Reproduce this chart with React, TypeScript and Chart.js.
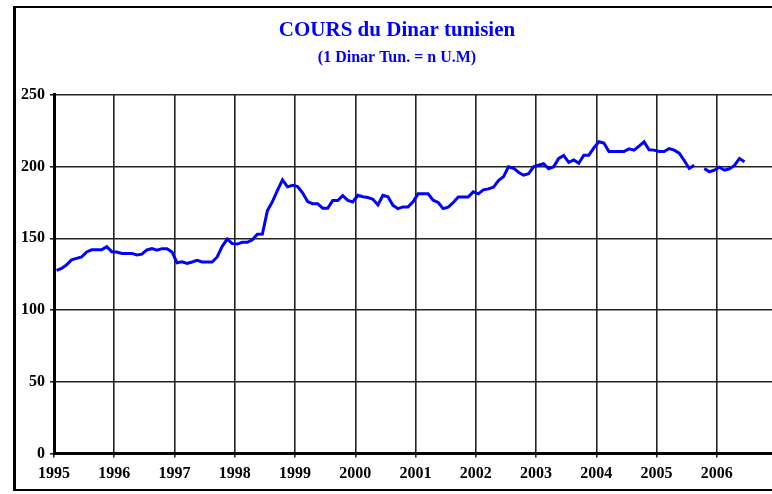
import React, { useEffect, useRef } from "react";
import { Chart, registerables } from "chart.js";

Chart.register(...registerables);

const startYear = 1995;
const yearLabels = ["1995", "1996", "1997", "1998", "1999", "2000", "2001", "2002", "2003", "2004", "2005", "2006"];
const yTicks = [0, 50, 100, 150, 200, 250];

const rates1995 = [127.7, 129, 131.5, 135, 136, 137, 140.5, 142, 142, 142, 144.2, 140.7];
const rates1996 = [140.5, 139.5, 139.5, 139.5, 138.4, 139, 142, 142.8, 141.8, 142.8, 142.8, 140.5];
const rates1997 = [133, 133.7, 132.5, 133.5, 134.6, 133.5, 133.5, 133.5, 137, 144.4, 149.5, 146.3];
const rates1998 = [146, 147.2, 147.2, 149, 152.8, 153, 169.3, 175.6, 183.5, 190.8, 185.9, 187];
const rates1999 = [186.1, 181.7, 175.6, 174.2, 174.2, 171, 171, 176.3, 176.3, 179.8, 176.5, 175.4];
const rates2000 = [180, 179, 178.5, 177.3, 173.3, 180, 179, 173, 170.7, 171.9, 171.9, 175.4];
const rates2001 = [181, 181, 181, 176.6, 175, 170.7, 171.7, 175, 178.9, 178.9, 178.9, 182.4];
const rates2002 = [181, 183.8, 184.5, 185.6, 190.3, 192.9, 199.9, 198.9, 196.1, 194, 195, 199.9];
const rates2003 = [201, 202, 198.5, 199.9, 205.7, 207.8, 203, 204.7, 202.4, 208, 208, 213.1];
const rates2004 = [217.3, 216.4, 210.5, 210.5, 210.5, 210.5, 212.4, 211.5, 214.3, 217.3, 211.7, 211.5];
const rates2005 = [210.5, 210.5, 212.6, 211.5, 209.4, 204.3, 198.7, 201, null, 198.7, 196.4, 197.5];
const rates2006 = [199.6, 197.5, 198.5, 200.8, 205.7, 203.4];

const ratesByYear: (number | null)[][] = [
  rates1995, rates1996, rates1997, rates1998, rates1999, rates2000,
  rates2001, rates2002, rates2003, rates2004, rates2005, rates2006,
];

const framePlugin = {
  id: "frame",
  beforeDraw(chart: any) {
    const ctx = chart.ctx;
    ctx.save();
    ctx.fillStyle = "#ffffff";
    ctx.fillRect(0, 0, chart.width, chart.height);
    ctx.strokeStyle = "#000000";
    ctx.lineWidth = 3;
    ctx.beginPath();
    ctx.moveTo(14.5, 6);
    ctx.lineTo(14.5, 491);
    ctx.stroke();
    ctx.lineWidth = 2;
    ctx.beginPath();
    ctx.moveTo(13, 7);
    ctx.lineTo(chart.width, 7);
    ctx.moveTo(13, 490);
    ctx.lineTo(chart.width, 490);
    ctx.stroke();
    ctx.restore();
  },
};

export default function App() {
  const ref = useRef<HTMLCanvasElement | null>(null);

  useEffect(() => {
    if (!ref.current) return;
    const points: { x: number; y: number | null }[] = [];
    ratesByYear.forEach((arr, yi) => {
      arr.forEach((v, m) => {
        points.push({ x: startYear + yi + (m + 0.5) / 12, y: v });
      });
    });

    const chart = new Chart(ref.current, {
      type: "line",
      data: {
        datasets: [
          {
            data: points as any,
            borderColor: "#0000ff",
            borderWidth: 3,
            pointRadius: 0,
            tension: 0,
            spanGaps: false,
          },
        ],
      },
      options: {
        animation: false,
        responsive: false,
        layout: { padding: { left: 0, right: 0, top: 0, bottom: 0 } },
        plugins: {
          legend: { display: false },
          tooltip: { enabled: false },
          title: {
            display: true,
            text: "COURS du Dinar tunisien",
            color: "#0000ff",
            font: { family: "Liberation Serif", weight: "bold", size: 21 },
            padding: { top: 18, bottom: 0 },
          },
          subtitle: {
            display: true,
            text: "(1 Dinar Tun. = n U.M)",
            color: "#0000ff",
            font: { family: "Liberation Serif", weight: "bold", size: 16 },
            padding: { top: 5, bottom: 27.5 },
          },
        },
        scales: {
          x: {
            type: "linear",
            min: 1995,
            max: 2007.28,
            ticks: {
              stepSize: 1,
              includeBounds: false,
              autoSkip: false,
              maxRotation: 0,
              color: "#000000",
              padding: 7,
              font: { family: "Liberation Serif", weight: "bold", size: 16 },
              callback: (v: any) => {
                const idx = Math.round(Number(v)) - startYear;
                return idx >= 0 && idx < yearLabels.length ? yearLabels[idx] : "";
              },
            },
            grid: { color: "#222222", lineWidth: 1.6, tickLength: 4, drawTicks: true },
            border: { display: true, color: "#000000", width: 3 },
            afterFit: (scale: any) => {
              scale.height = 40.5;
            },
          },
          y: {
            min: 0,
            max: 250,
            afterBuildTicks: (scale: any) => {
              scale.ticks = yTicks.map((v) => ({ value: v }));
            },
            ticks: {
              color: "#000000",
              padding: 5,
              font: { family: "Liberation Serif", weight: "bold", size: 16 },
            },
            grid: { color: "#222222", lineWidth: 1.6, tickLength: 4, drawTicks: true },
            border: { display: true, color: "#000000", width: 3 },
            afterFit: (scale: any) => {
              scale.width = 54;
            },
          },
        },
      },
      plugins: [framePlugin],
    });
    return () => chart.destroy();
  }, []);

  return (
    <div
      style={{
        position: "fixed",
        left: 0,
        top: 0,
        width: 772,
        height: 494,
        overflow: "hidden",
        background: "#ffffff",
      }}
    >
      <canvas ref={ref} width={794} height={494} />
    </div>
  );
}
